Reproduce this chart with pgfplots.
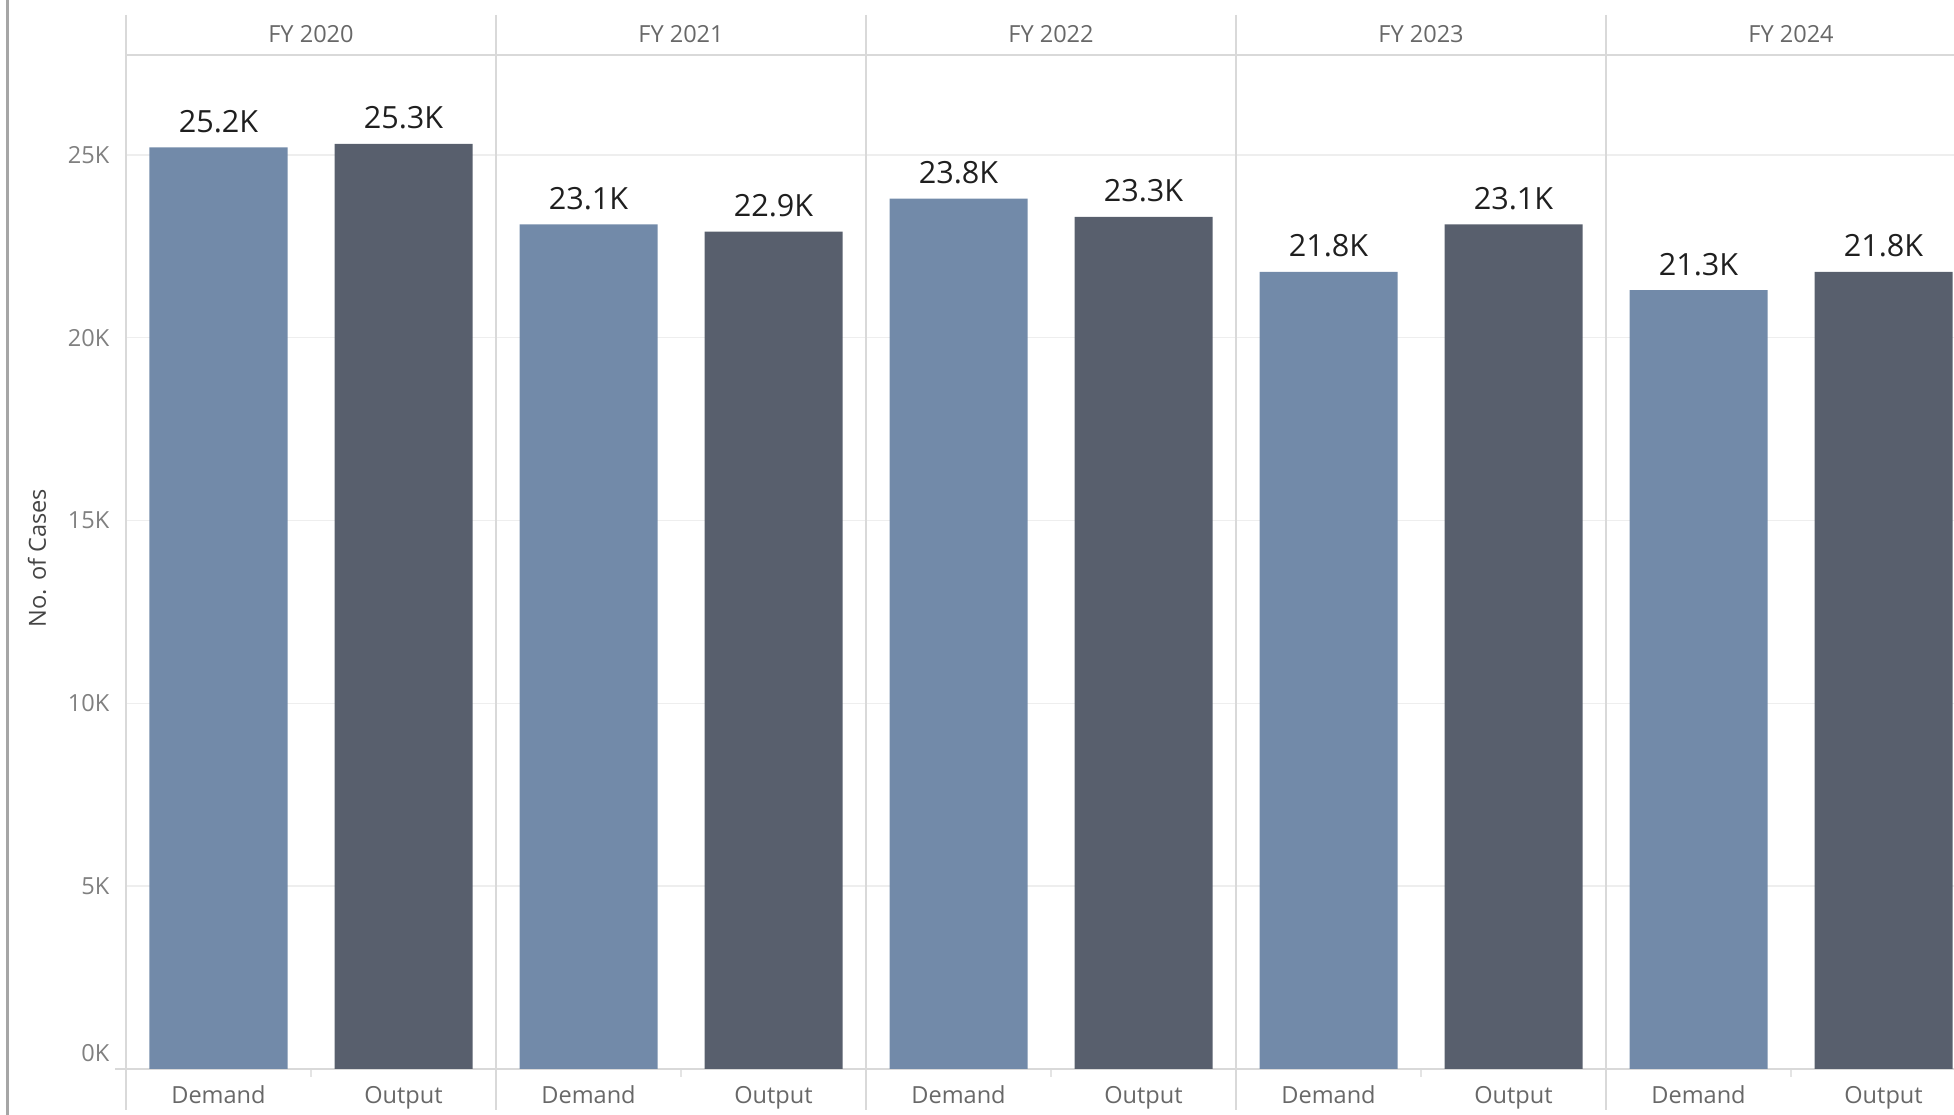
\documentclass[border=0pt]{standalone}
\usepackage{pgfplots}
\pgfplotsset{compat=1.18}
\usepackage{fontspec}
\setmainfont{Open Sans}
\definecolor{demand}{HTML}{728AA9}
\definecolor{output}{HTML}{585F6D}
\definecolor{divider}{HTML}{D9D9D9}
\definecolor{gridc}{HTML}{EEEEEE}
\definecolor{tickc}{HTML}{808080}
\definecolor{hdrc}{HTML}{686868}
\definecolor{titlec}{HTML}{444444}
\definecolor{framec}{HTML}{A6A6A6}
\newcommand{\smallfont}{\fontsize{6.7}{8}\selectfont}
\newcommand{\labfont}{\fontsize{8.7}{10}\selectfont}

\begin{document}
\begin{tikzpicture}
\path[use as bounding box] (0,0) rectangle (195.4mm,111.5mm);
\begin{axis}[
  at={(12.6mm,4.6mm)}, anchor=south west,
  scale only axis, width=182.8mm, height=101.4mm,
  xmin=0, xmax=9.881, ymin=0, ymax=27.73,
  clip=false,
  axis line style={draw=none},
  major tick length=0pt,
  xtick={0.5,1.5,2.5,3.5,4.5,5.5,6.5,7.5,8.5,9.5},
  xticklabels={Demand,Output,Demand,Output,Demand,Output,Demand,Output,Demand,Output},
  xticklabel style={font=\smallfont, text=hdrc, anchor=base, inner sep=0pt, yshift=-3.44mm},
  ytick={5,10,15,20,25},
  yticklabels={5K,10K,15K,20K,25K},
  extra y ticks={0}, extra y tick labels={0K},
  extra y tick style={grid=none, yticklabel style={yshift=1.6mm}},
  yticklabel style={font=\smallfont, text=tickc, anchor=east, inner sep=0pt, xshift=-1.6mm},
  ymajorgrids, grid style={gridc, line width=0.15mm},
]
% panel decorations
\pgfplotsinvokeforeach{0,2,4,6,8}{
  \draw[divider, line width=0.2mm] ([yshift=4mm]axis cs:#1,27.73) -- ([yshift=-4.1mm]axis cs:#1,0);
}
\pgfplotsinvokeforeach{1,3,5,7,9}{
  \draw[divider!70, line width=0.15mm] (axis cs:#1,0) -- ([yshift=-0.8mm]axis cs:#1,0);
}
\draw[divider, line width=0.2mm] (axis cs:0,27.73) -- (axis cs:9.881,27.73);
\draw[divider, line width=0.2mm] ([xshift=-1.1mm]axis cs:0,0) -- (axis cs:9.881,0);

\addplot[ybar, bar width=0.746, bar shift=0pt, fill=demand, draw=none,
  nodes near coords, point meta=explicit symbolic,
  every node near coord/.append style={font=\labfont, text=black!88, anchor=base, inner sep=0pt, yshift=1.5mm}]
  coordinates {(0.5,25.2) [25.2K] (2.5,23.1) [23.1K] (4.5,23.8) [23.8K] (6.5,21.8) [21.8K] (8.5,21.3) [21.3K]};
\addplot[ybar, bar width=0.746, bar shift=0pt, fill=output, draw=none,
  nodes near coords, point meta=explicit symbolic,
  every node near coord/.append style={font=\labfont, text=black!88, anchor=base, inner sep=0pt, yshift=1.5mm}]
  coordinates {(1.5,25.3) [25.3K] (3.5,22.9) [22.9K] (5.5,23.3) [23.3K] (7.5,23.1) [23.1K] (9.5,21.8) [21.8K]};

\node[font=\smallfont, text=hdrc, anchor=base, inner sep=0pt] at ([yshift=1.2mm]axis cs:1,27.73) {FY 2020};
\node[font=\smallfont, text=hdrc, anchor=base, inner sep=0pt] at ([yshift=1.2mm]axis cs:3,27.73) {FY 2021};
\node[font=\smallfont, text=hdrc, anchor=base, inner sep=0pt] at ([yshift=1.2mm]axis cs:5,27.73) {FY 2022};
\node[font=\smallfont, text=hdrc, anchor=base, inner sep=0pt] at ([yshift=1.2mm]axis cs:7,27.73) {FY 2023};
\node[font=\smallfont, text=hdrc, anchor=base, inner sep=0pt] at ([yshift=1.2mm]axis cs:9,27.73) {FY 2024};
\end{axis}
\node[rotate=90, font=\smallfont, text=titlec, inner sep=0pt] at (3.7mm,55.7mm) {No. of Cases};
\draw[framec, line width=0.22mm] (0.75mm,0) -- (0.75mm,111.5mm);
\end{tikzpicture}
\end{document}
